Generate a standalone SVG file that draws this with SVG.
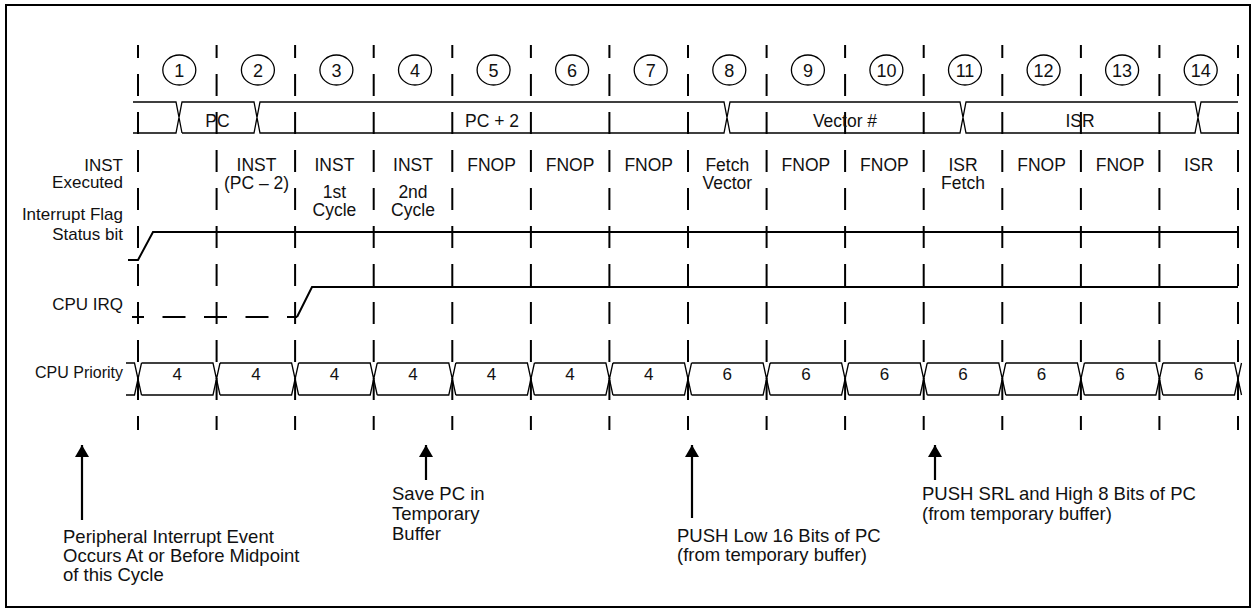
<svg xmlns="http://www.w3.org/2000/svg" width="1251" height="616" viewBox="0 0 1251 616">
<defs>
<style>
text{font-family:"Liberation Sans",Arial,sans-serif;font-size:17px;fill:#111}
.m{text-anchor:middle}
.r{text-anchor:end}
.c{font-size:17.5px}
.n{font-size:18px}
.p{font-size:16px}
.v{font-size:17px;text-anchor:middle}
.a{font-size:18.5px}
.grid{stroke:#000;stroke-width:2;fill:none;stroke-dasharray:22 16;stroke-dashoffset:9}
.bus{stroke:#000;stroke-width:1.3;fill:none}
.sig{stroke:#000;stroke-width:2;fill:none}
.circ{stroke:#000;stroke-width:1.3;fill:none}
.arr{stroke:#000;stroke-width:2.2;fill:none;marker-start:url(#ah)}
</style>
<marker id="ah" markerUnits="userSpaceOnUse" markerWidth="16" markerHeight="14" refX="0" refY="7" orient="auto" viewBox="0 0 14 14">
<path d="M0,7 L12,0 L12,14 Z" fill="#000"/>
</marker>
</defs>
<rect x="6" y="5" width="1244" height="602" fill="none" stroke="#000" stroke-width="2"/>

<g id="grid">
<line class="grid" x1="138" y1="45" x2="138" y2="430"/>
<line class="grid" x1="216.6" y1="45" x2="216.6" y2="430"/>
<line class="grid" x1="295.1" y1="45" x2="295.1" y2="430"/>
<line class="grid" x1="373.7" y1="45" x2="373.7" y2="430"/>
<line class="grid" x1="452.3" y1="45" x2="452.3" y2="430"/>
<line class="grid" x1="530.9" y1="45" x2="530.9" y2="430"/>
<line class="grid" x1="609.4" y1="45" x2="609.4" y2="430"/>
<line class="grid" x1="688" y1="45" x2="688" y2="430"/>
<line class="grid" x1="766.6" y1="45" x2="766.6" y2="430"/>
<line class="grid" x1="845.1" y1="45" x2="845.1" y2="430"/>
<line class="grid" x1="923.7" y1="45" x2="923.7" y2="430"/>
<line class="grid" x1="1002.3" y1="45" x2="1002.3" y2="430"/>
<line class="grid" x1="1080.9" y1="45" x2="1080.9" y2="430"/>
<line class="grid" x1="1159.4" y1="45" x2="1159.4" y2="430"/>
<line class="grid" x1="1238" y1="45" x2="1238" y2="430"/>
</g>

<g id="cycles">
<g id="c1"><ellipse class="circ" cx="179.3" cy="70" rx="16.5" ry="15"/><text class="m n" x="179.3" y="76.5">1</text></g>
<g id="c2"><ellipse class="circ" cx="257.9" cy="70" rx="16.5" ry="15"/><text class="m n" x="257.9" y="76.5">2</text></g>
<g id="c3"><ellipse class="circ" cx="336.4" cy="70" rx="16.5" ry="15"/><text class="m n" x="336.4" y="76.5">3</text></g>
<g id="c4"><ellipse class="circ" cx="415" cy="70" rx="16.5" ry="15"/><text class="m n" x="415" y="76.5">4</text></g>
<g id="c5"><ellipse class="circ" cx="493.6" cy="70" rx="16.5" ry="15"/><text class="m n" x="493.6" y="76.5">5</text></g>
<g id="c6"><ellipse class="circ" cx="572.1" cy="70" rx="16.5" ry="15"/><text class="m n" x="572.1" y="76.5">6</text></g>
<g id="c7"><ellipse class="circ" cx="650.7" cy="70" rx="16.5" ry="15"/><text class="m n" x="650.7" y="76.5">7</text></g>
<g id="c8"><ellipse class="circ" cx="729.3" cy="70" rx="16.5" ry="15"/><text class="m n" x="729.3" y="76.5">8</text></g>
<g id="c9"><ellipse class="circ" cx="807.9" cy="70" rx="16.5" ry="15"/><text class="m n" x="807.9" y="76.5">9</text></g>
<g id="c10"><ellipse class="circ" cx="886.4" cy="70" rx="16.5" ry="15"/><text class="m n" x="886.4" y="76.5">10</text></g>
<g id="c11"><ellipse class="circ" cx="965" cy="70" rx="16.5" ry="15"/><text class="m n" x="965" y="76.5">11</text></g>
<g id="c12"><ellipse class="circ" cx="1043.6" cy="70" rx="16.5" ry="15"/><text class="m n" x="1043.6" y="76.5">12</text></g>
<g id="c13"><ellipse class="circ" cx="1122.1" cy="70" rx="16.5" ry="15"/><text class="m n" x="1122.1" y="76.5">13</text></g>
<g id="c14"><ellipse class="circ" cx="1200.7" cy="70" rx="16.5" ry="15"/><text class="m n" x="1200.7" y="76.5">14</text></g>
</g>

<g id="pc-bus">
<path class="bus" d="M133,102 H176 L182,133 M133,133 H176 L182,102 H254 L260,133 H724 L730,102 H960 L966,133 H1195 L1201,102 H1238 M182,133 H254 L260,102 H724 L730,133 H960 L966,102 H1195 L1201,133 H1238"/>
<text class="m c" x="217.5" y="127">PC</text>
<text class="m c" x="492" y="127">PC + 2</text>
<text class="m c" x="845" y="127">Vector #</text>
<text class="m c" x="1080" y="127">ISR</text>
</g>

<g id="inst-row">
<text class="r" x="123" y="171">INST</text>
<text class="r" x="123" y="188">Executed</text>
<text class="m c" x="256.5" y="171">INST</text>
<text class="m c" x="256.5" y="189">(PC – 2)</text>
<text class="m c" x="334.4" y="171">INST</text>
<text class="m c" x="334.4" y="198">1st</text>
<text class="m c" x="334.4" y="216">Cycle</text>
<text class="m c" x="413" y="171">INST</text>
<text class="m c" x="413" y="198">2nd</text>
<text class="m c" x="413" y="216">Cycle</text>
<text class="m c" x="491.6" y="171">FNOP</text>
<text class="m c" x="570.1" y="171">FNOP</text>
<text class="m c" x="648.7" y="171">FNOP</text>
<text class="m c" x="727.3" y="171">Fetch</text>
<text class="m c" x="727.3" y="189">Vector</text>
<text class="m c" x="805.9" y="171">FNOP</text>
<text class="m c" x="884.4" y="171">FNOP</text>
<text class="m c" x="963" y="171">ISR</text>
<text class="m c" x="963" y="189">Fetch</text>
<text class="m c" x="1041.6" y="171">FNOP</text>
<text class="m c" x="1120.1" y="171">FNOP</text>
<text class="m c" x="1198.7" y="171">ISR</text>
</g>

<g id="int-flag">
<text class="r" x="123" y="220">Interrupt Flag</text>
<text class="r" x="123" y="240">Status bit</text>
<path class="sig" d="M128,260 H138 L153,232 H1238"/>
</g>

<g id="cpu-irq">
<text class="r" x="123" y="310">CPU IRQ</text>
<line class="sig" x1="132" y1="317" x2="297" y2="317" style="stroke-dasharray:23 18.5;stroke-dashoffset:11"/>
<path class="sig" d="M297,317 L312,287 H1238"/>
</g>

<g id="cpu-priority">
<text class="r p" x="123" y="378">CPU Priority</text>
<path class="bus" d="M126,363 H134.5 L141.5,395 M126,395 H134.5 L141.5,363
M141.5,363 H213 L220,395 M141.5,395 H213 L220,363
M220,363 H291.6 L298.6,395 M220,395 H291.6 L298.6,363
M298.6,363 H370.2 L377.2,395 M298.6,395 H370.2 L377.2,363
M377.2,363 H448.8 L455.8,395 M377.2,395 H448.8 L455.8,363
M455.8,363 H527.4 L534.4,395 M455.8,395 H527.4 L534.4,363
M534.4,363 H605.9 L612.9,395 M534.4,395 H605.9 L612.9,363
M612.9,363 H684.5 L691.5,395 M612.9,395 H684.5 L691.5,363
M691.5,363 H763.1 L770.1,395 M691.5,395 H763.1 L770.1,363
M770.1,363 H841.6 L848.6,395 M770.1,395 H841.6 L848.6,363
M848.6,363 H920.2 L927.2,395 M848.6,395 H920.2 L927.2,363
M927.2,363 H998.8 L1005.8,395 M927.2,395 H998.8 L1005.8,363
M1005.8,363 H1077.4 L1084.4,395 M1005.8,395 H1077.4 L1084.4,363
M1084.4,363 H1155.9 L1162.9,395 M1084.4,395 H1155.9 L1162.9,363
M1162.9,363 H1234.5 L1241.5,395 M1162.9,395 H1234.5 L1241.5,363"/>
<text class="v" x="177.3" y="379.5">4</text>
<text class="v" x="255.9" y="379.5">4</text>
<text class="v" x="334.4" y="379.5">4</text>
<text class="v" x="413" y="379.5">4</text>
<text class="v" x="491.6" y="379.5">4</text>
<text class="v" x="570.1" y="379.5">4</text>
<text class="v" x="648.7" y="379.5">4</text>
<text class="v" x="727.3" y="379.5">6</text>
<text class="v" x="805.9" y="379.5">6</text>
<text class="v" x="884.4" y="379.5">6</text>
<text class="v" x="963" y="379.5">6</text>
<text class="v" x="1041.6" y="379.5">6</text>
<text class="v" x="1120.1" y="379.5">6</text>
<text class="v" x="1198.7" y="379.5">6</text>
</g>

<g id="connectors">
<line class="arr" x1="82" y1="445" x2="82" y2="520"/>
<line class="arr" x1="426" y1="445" x2="426" y2="480"/>
<line class="arr" x1="692" y1="445" x2="692" y2="518"/>
<line class="arr" x1="935" y1="445" x2="935" y2="480"/>
</g>

<g id="note-peripheral">
<text class="a" x="63" y="543">Peripheral Interrupt Event</text>
<text class="a" x="63" y="562">Occurs At or Before Midpoint</text>
<text class="a" x="63" y="581">of this Cycle</text>
</g>
<g id="note-save">
<text class="a" x="392" y="500">Save PC in</text>
<text class="a" x="392" y="520">Temporary</text>
<text class="a" x="392" y="540">Buffer</text>
</g>
<g id="note-push-low">
<text class="a" x="677" y="542">PUSH Low 16 Bits of PC</text>
<text class="a" x="677" y="561">(from temporary buffer)</text>
</g>
<g id="note-push-srl">
<text class="a" x="922" y="500">PUSH SRL and High 8 Bits of PC</text>
<text class="a" x="922" y="520">(from temporary buffer)</text>
</g>
</svg>
